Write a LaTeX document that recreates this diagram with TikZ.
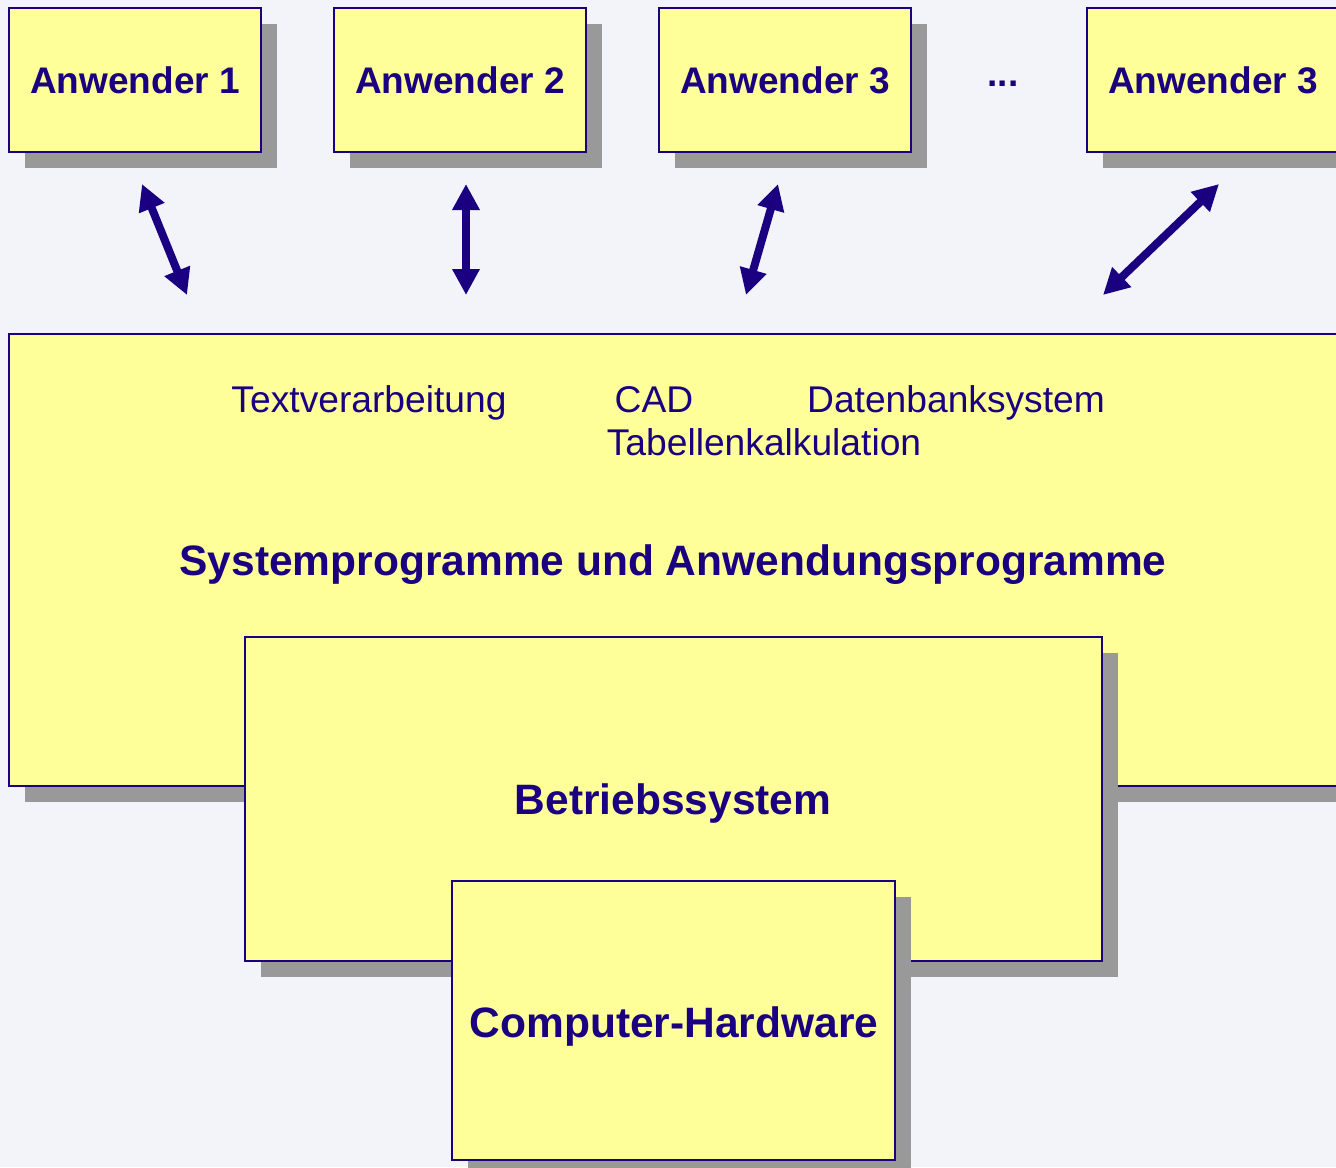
\documentclass[tikz,border=0pt]{standalone}
\usepackage{fontspec}
\setmainfont{Liberation Sans}
\usetikzlibrary{arrows.meta,shadows}
\definecolor{navy}{RGB}{26,0,128}
\definecolor{paper}{RGB}{243,244,250}
\definecolor{boxfill}{RGB}{255,255,153}
\definecolor{shade}{RGB}{153,153,153}
\tikzset{
  layer/.style={draw=navy, line width=1pt, fill=boxfill, rectangle, anchor=north west,
    inner sep=0pt, outer sep=0pt,
    drop shadow={shadow xshift=8pt, shadow yshift=-8pt, fill=shade, opacity=1}},
  userbox/.style={layer, minimum width=126pt, minimum height=72pt,
    font=\fontsize{18.5}{22}\selectfont\bfseries, text=navy,
    text height=13.2pt, text depth=0pt},
  label/.style={text=navy, inner sep=0pt, anchor=base, font=\fontsize{18.6}{22}\selectfont},
  title/.style={text=navy, inner sep=0pt, anchor=base, font=\fontsize{21.25}{25}\selectfont\bfseries},
  link/.style={draw=navy, line width=4pt,
    {Triangle[length=13pt,width=13pt]}-{Triangle[length=13pt,width=13pt]}},
}
\begin{document}
\begin{tikzpicture}[x=0.5pt,y=-0.5pt]
  \useasboundingbox (0,0) rectangle (1336,1167);
  \clip (0,0) rectangle (1336,1167);
  \fill[paper] (0,0) rectangle (1336,1167);

  % users
  \node[userbox] (u1) at (9,8) {Anwender 1};
  \node[userbox] (u2) at (334,8) {Anwender 2};
  \node[userbox] (u3) at (659,8) {Anwender 3};
  \node[text=navy, inner sep=0pt, anchor=base, font=\fontsize{18.5}{22}\selectfont\bfseries] (dots) at (1003,86) {...};
  \node[userbox] (u4) at (1087,8) {Anwender 3};

  % software layer
  \node[layer, minimum width=664pt, minimum height=226pt] (sw) at (9,334) {};
  \node[label] (tv) at (369,412.5) {Textverarbeitung};
  \node[label] (cad) at (654,412.5) {CAD};
  \node[label] (db) at (956,412.5) {Datenbanksystem};
  \node[label] (tk) at (764,455.5) {Tabellenkalkulation};
  \node[title] (swt) at (673,575.5) {Systemprogramme und Anwendungsprogramme};

  % operating system
  \node[layer, minimum width=428.5pt, minimum height=162pt] (os) at (245,637) {};
  \node[title] (ost) at (673,814.5) {Betriebssystem};

  % hardware
  \node[layer, minimum width=221.5pt, minimum height=139.5pt] (hw) at (452,881) {};
  \node[title] (hwt) at (674,1037.5) {Computer-Hardware};

  % arrows between users and software layer
  \coordinate (a1) at (142,184);  \coordinate (b1) at (187,295);
  \coordinate (a2) at (466,184);  \coordinate (b2) at (466,295);
  \coordinate (a3) at (778,184);  \coordinate (b3) at (746,295);
  \coordinate (a4) at (1219,184); \coordinate (b4) at (1103,295);
  \draw[link] (a1) -- (b1);
  \draw[link] (a2) -- (b2);
  \draw[link] (a3) -- (b3);
  \draw[link] (a4) -- (b4);
\end{tikzpicture}
\end{document}
